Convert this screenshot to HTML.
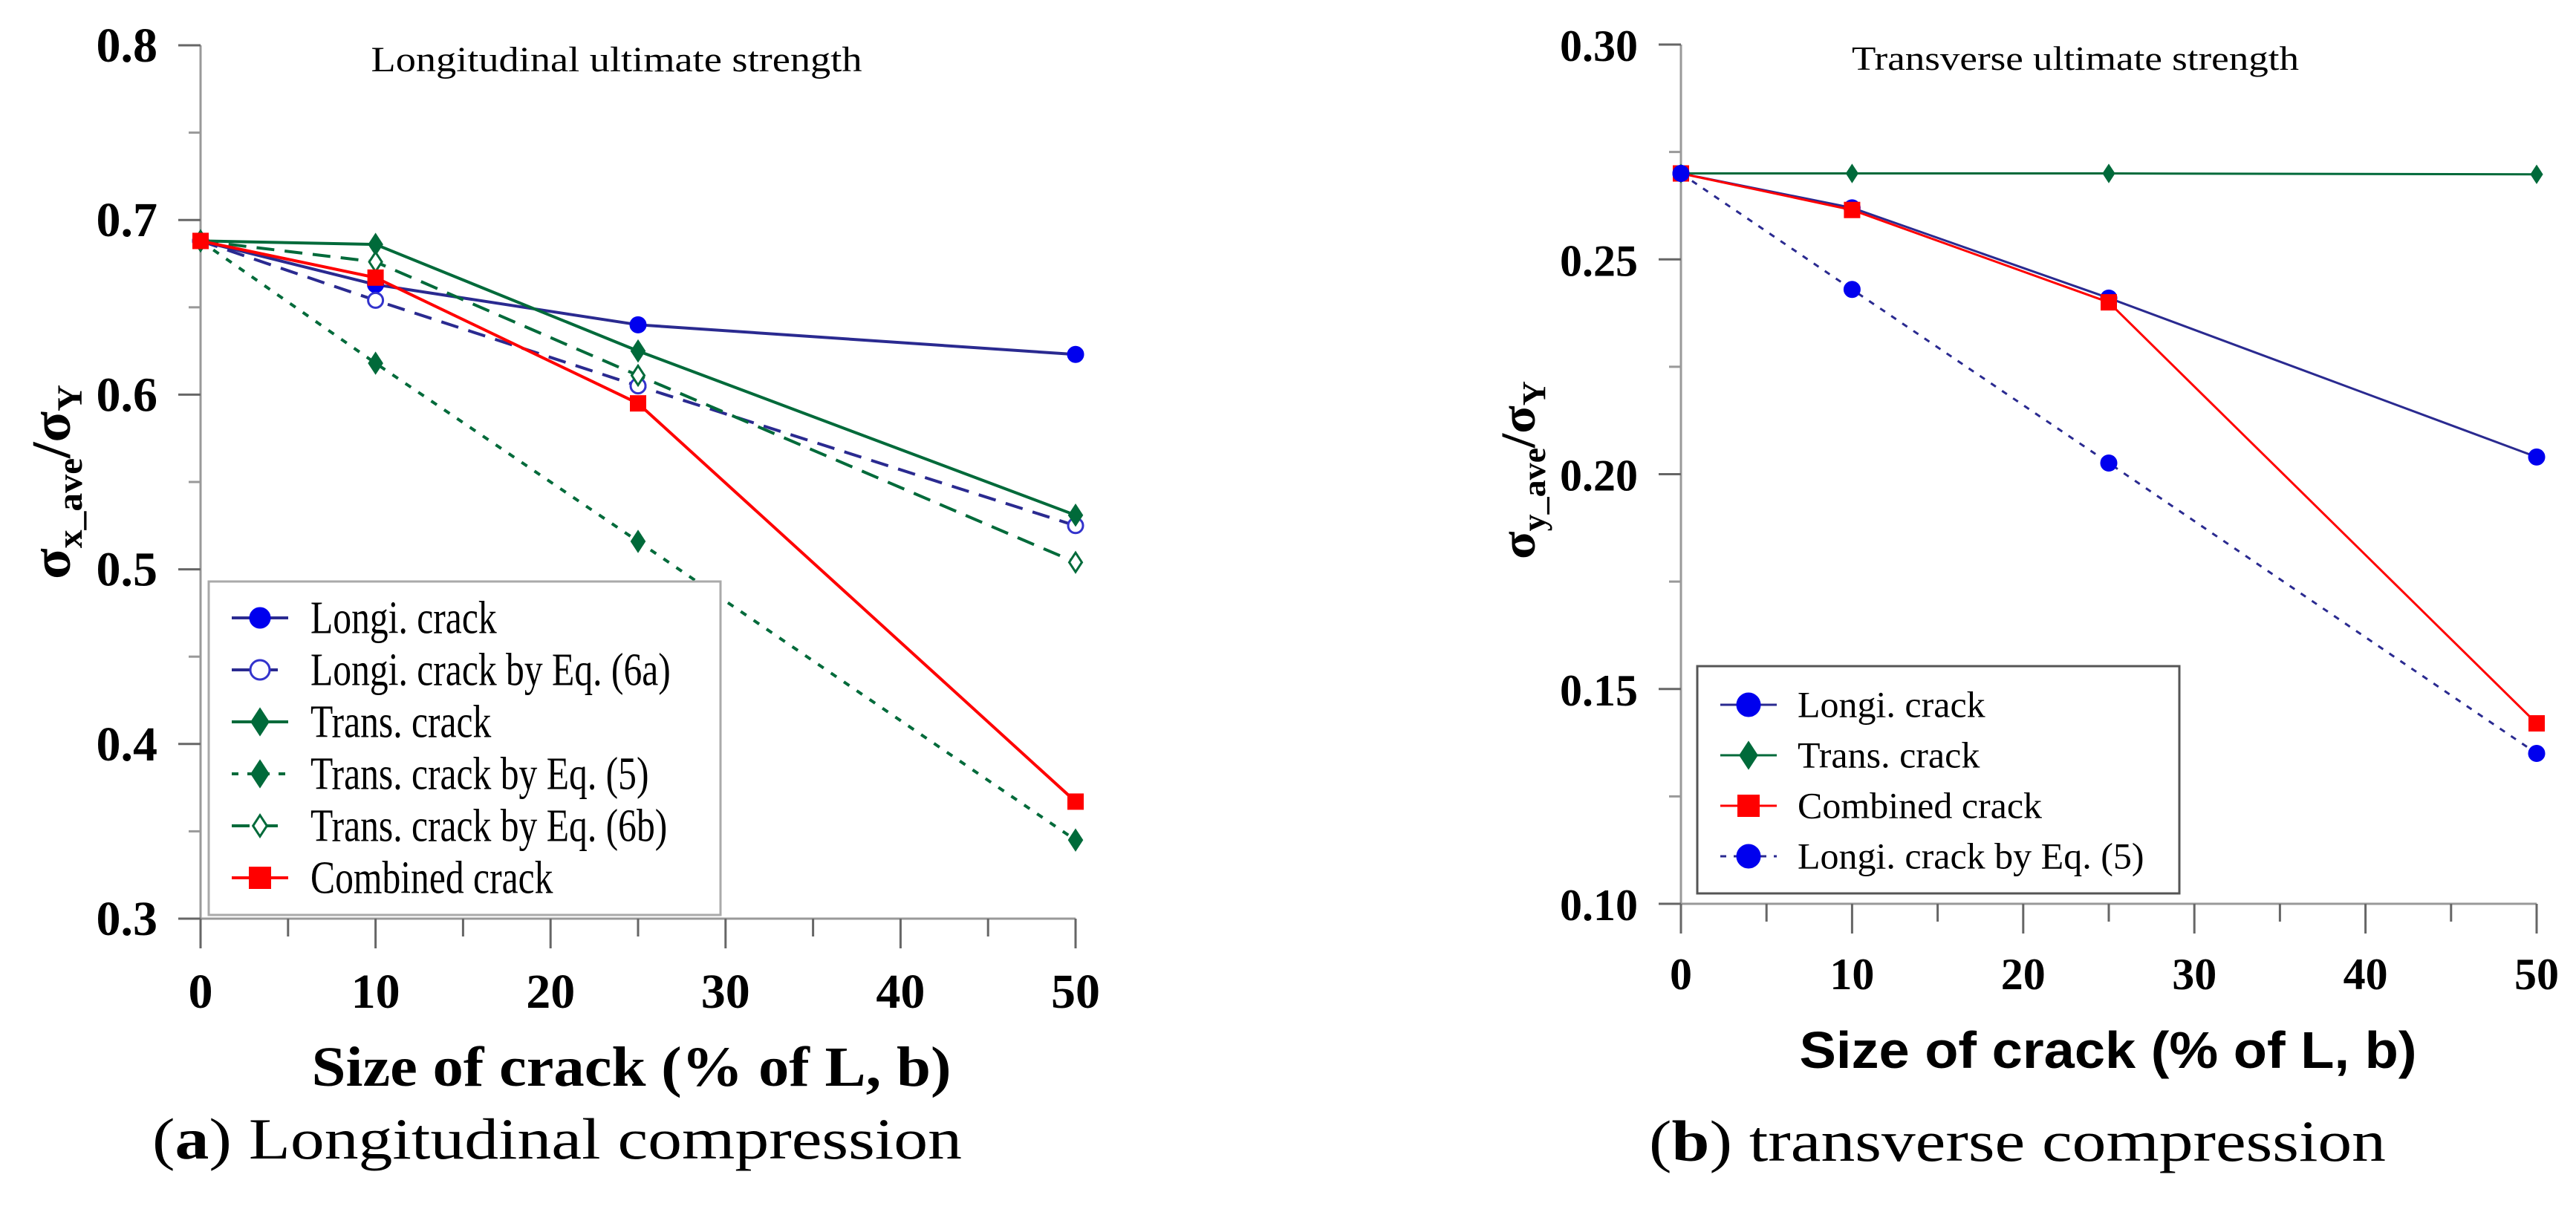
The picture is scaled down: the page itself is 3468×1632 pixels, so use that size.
<!DOCTYPE html>
<html><head><meta charset="utf-8"><style>
html,body{margin:0;padding:0;background:#fff}
svg{display:block}
</style></head><body>
<svg id="fig" width="3468" height="1632" viewBox="0 0 3468 1632" xmlns="http://www.w3.org/2000/svg">
<g id="L"></g>
<g id="R"></g>
</svg>
<script>
// ---- Chart (a) data ----
const xCats = [0, 10, 25, 50];
const aLongi = [0.688, 0.663, 0.640, 0.623];
const aLongi6a = [0.688, 0.654, 0.605, 0.525];
const aTrans = [0.688, 0.686, 0.625, 0.531];
const aTransEq5 = [0.688, 0.618, 0.516, 0.345];
const aTrans6b = [0.688, 0.676, 0.611, 0.504];
const aCombined = [0.688, 0.667, 0.595, 0.367];
const aYTicks = ["0.3","0.4","0.5","0.6","0.7","0.8"];
const xTicks = ["0","10","20","30","40","50"];
// ---- Chart (b) data ----
const bLongi = [0.270, 0.262, 0.241, 0.204];
const bTrans = [0.270, 0.270, 0.270, 0.2698];
const bCombined = [0.270, 0.2615, 0.240, 0.142];
const bLongiEq5 = [0.270, 0.243, 0.2026, 0.135];
const bYTicks = ["0.10","0.15","0.20","0.25","0.30"];

const NS="http://www.w3.org/2000/svg";
const SERIF='"Liberation Serif", serif', SANS='"Liberation Sans", sans-serif';
function mk(p,tag,at,txt){const e=document.createElementNS(NS,tag);for(const k in at)e.setAttribute(k,at[k]);if(tag==="text"&&!at["font-family"])e.setAttribute("font-family",SERIF);if(txt!==undefined)e.textContent=txt;p.appendChild(e);return e;}
const BLUE="#0000ee", DBLUE="#2a2a90", GREEN="#006a3a", RED="#ff0000";

function marker(g,type,x,y,s,col,fill){
  let e;
  if(type==="circle") e=mk(g,"circle",{cx:x,cy:y,r:s,fill:fill?col:"#fff",stroke:col,"stroke-width":3});
  else if(type==="square") e=mk(g,"rect",{x:x-s,y:y-s,width:2*s,height:2*s,fill:col});
  else e=mk(g,"polygon",{points:`${x},${y-s*1.3} ${x+s*0.85},${y} ${x},${y+s*1.3} ${x-s*0.85},${y}`,fill:fill?col:"#fff",stroke:col,"stroke-width":3});
  return e;
}

function chart(g,cfg){
  const X=v=>cfg.x0+(v-0)*(cfg.x1-cfg.x0)/50;
  const Y=v=>cfg.yb+(v-cfg.ymin)*(cfg.yt-cfg.yb)/(cfg.ymax-cfg.ymin);
  const ax=mk(g,"line",{x1:cfg.x0,y1:Y(cfg.ymax),x2:cfg.x0,y2:cfg.yb+40,stroke:"#999","stroke-width":3});
  
  
  const bx=mk(g,"line",{x1:cfg.x0-30,y1:cfg.yb,x2:cfg.x1,y2:cfg.yb,stroke:"#999","stroke-width":3});
  
  
  cfg.yticks.forEach((t,i)=>{
    const v=parseFloat(t),y=Y(v);
    mk(g,"line",{x1:cfg.x0-30,y1:y,x2:cfg.x0,y2:y,stroke:"#666","stroke-width":3});
    const lb=mk(g,"text",{x:cfg.x0-58,y:y+22,"text-anchor":"end","font-size":cfg.tfs,"font-weight":"bold"},t);
    
    
    if(i<cfg.yticks.length-1){const ym=Y(v+cfg.ystep/2);mk(g,"line",{x1:cfg.x0-16,y1:ym,x2:cfg.x0,y2:ym,stroke:"#999","stroke-width":3});}
  });
  xTicks.forEach((t,i)=>{
    const v=parseFloat(t),x=X(v);
    mk(g,"line",{x1:x,y1:cfg.yb,x2:x,y2:cfg.yb+40,stroke:"#666","stroke-width":3});
    if(i<xTicks.length-1){const xm=X(v+5);mk(g,"line",{x1:xm,y1:cfg.yb,x2:xm,y2:cfg.yb+24,stroke:"#666","stroke-width":3});}
    const lb=mk(g,"text",{x:x,y:cfg.xly,"text-anchor":"middle","font-size":cfg.tfs,"font-weight":"bold"},t);
    
    
  });
  cfg.series.forEach(s=>{
    const sg=mk(g,"g",{});
    
    
    const pts=xCats.map((c,i)=>X(c)+","+Y(s.d[i])).join(" ");
    mk(sg,"polyline",{points:pts,fill:"none",stroke:s.lc,"stroke-width":cfg.lw0,"stroke-dasharray":s.dash||"none"});
    xCats.forEach((c,i)=>{const m=marker(sg,s.m,X(c),Y(s.d[i]),s.ms,s.mc,s.fill);
      
      });
  });
  const lg=mk(g,"g",{});
  
  
  mk(lg,"rect",{x:cfg.lx,y:cfg.ly,width:cfg.lw,height:cfg.lh,fill:"#fff",stroke:cfg.lstroke,"stroke-width":3});
  cfg.series.forEach((s,i)=>{
    const y=cfg.ly+cfg.l0+i*cfg.ldy, mx=cfg.lmx;
    const eg=mk(lg,"g",{});
    
    
    mk(eg,"line",{x1:mx-38,y1:y,x2:mx+38,y2:y,stroke:s.lc,"stroke-width":cfg.lw0,"stroke-dasharray":s.dash||"none"});
    marker(eg,s.m,mx,y,s.lms||s.ms*1.4,s.mc,s.fill);
    const tx=mk(eg,"text",{x:cfg.ltx,y:y+cfg.lfs*0.33,"font-size":cfg.lfs},s.name);
    const w=tx.getComputedTextLength();
    if(w>0) tx.setAttribute("textLength",w*cfg.lsx),tx.setAttribute("lengthAdjust","spacingAndGlyphs");
  });
  const tt=mk(g,"text",{x:cfg.tx,y:cfg.ty,"text-anchor":"middle","font-size":cfg.titfs,textLength:cfg.titw,lengthAdjust:"spacingAndGlyphs"},cfg.title);
  
  
}

const L=document.getElementById("L"), R=document.getElementById("R");
chart(L,{x0:270,x1:1448,yb:1237,yt:61,ymin:0.3,ymax:0.8,ystep:0.1,yticks:aYTicks,tfs:66,xly:1357,lw0:4,
  series:[
   {id:"longi",name:"Longi. crack",d:aLongi,lc:DBLUE,mc:BLUE,m:"circle",ms:10,fill:true,lms:13},
   {id:"longi-6a",name:"Longi. crack by Eq. (6a)",d:aLongi6a,lc:DBLUE,mc:"#3333cc",m:"circle",ms:10,fill:false,dash:"24 14",lms:13},
   {id:"trans",name:"Trans. crack",d:aTrans,lc:GREEN,mc:GREEN,m:"diamond",ms:10,fill:true,lms:13},
   {id:"trans-eq5",name:"Trans. crack by Eq. (5)",d:aTransEq5,lc:GREEN,mc:GREEN,m:"diamond",ms:10,fill:true,dash:"9 12",lms:13},
   {id:"trans-6b",name:"Trans. crack by Eq. (6b)",d:aTrans6b,lc:GREEN,mc:GREEN,m:"diamond",ms:10,fill:false,dash:"24 14",lms:11},
   {id:"combined",name:"Combined crack",d:aCombined,lc:RED,mc:RED,m:"square",ms:11,fill:true,lms:15}],
  lx:281,ly:783,lw:689,lh:449,l0:49,ldy:70,lmx:350,ltx:418,lfs:62,lsx:0.8,lstroke:"#aaa",
  tx:830,ty:96,titfs:48,titw:661,title:"Longitudinal ultimate strength"});
chart(R,{x0:2263,x1:3415,yb:1217,yt:60,ymin:0.10,ymax:0.30,ystep:0.05,yticks:bYTicks,tfs:60,xly:1332,lw0:3,
  series:[
   {id:"longi",name:"Longi. crack",d:bLongi,lc:DBLUE,mc:BLUE,m:"circle",ms:10,fill:true,lms:15},
   {id:"trans",name:"Trans. crack",d:bTrans,lc:GREEN,mc:GREEN,m:"diamond",ms:8,fill:true,lms:13},
   {id:"combined",name:"Combined crack",d:bCombined,lc:RED,mc:RED,m:"square",ms:11,fill:true,lms:15},
   {id:"longi-eq5",name:"Longi. crack by Eq. (5)",d:bLongiEq5,lc:DBLUE,mc:BLUE,m:"circle",ms:10,fill:true,dash:"8 10",lms:15}],
  lx:2285,ly:897,lw:649,lh:306,l0:52,ldy:68,lmx:2354,ltx:2420,lfs:50,lsx:1.0,lstroke:"#555",
  tx:2794,ty:94,titfs:46,titw:602,title:"Transverse ultimate strength"});

const fig=document.getElementById("fig");
let t;
t=mk(fig,"text",{x:850,y:1462,"text-anchor":"middle","font-size":76,"font-weight":"bold",textLength:861,lengthAdjust:"spacingAndGlyphs"},"Size of crack (% of L, b)");


t=mk(fig,"text",{x:2838,y:1438,"text-anchor":"middle","font-size":70,"font-weight":"bold","font-family":SANS,textLength:831,lengthAdjust:"spacingAndGlyphs"},"Size of crack (% of L, b)");


t=mk(fig,"text",{transform:"translate(94,649) rotate(-90)","text-anchor":"middle","font-size":74,"font-weight":"bold",textLength:262,lengthAdjust:"spacingAndGlyphs"});
t.innerHTML='σ<tspan font-size="48" dy="16">x_ave</tspan><tspan dy="-16">/σ</tspan><tspan font-size="48" dy="16">Y</tspan>';


t=mk(fig,"text",{transform:"translate(2066,633) rotate(-90)","text-anchor":"middle","font-size":66,"font-weight":"bold",textLength:240,lengthAdjust:"spacingAndGlyphs"});
t.innerHTML='σ<tspan font-size="44" dy="14">y_ave</tspan><tspan dy="-14">/σ</tspan><tspan font-size="44" dy="14">Y</tspan>';


t=mk(fig,"text",{x:750,y:1560,"text-anchor":"middle","font-size":78,textLength:1090,lengthAdjust:"spacingAndGlyphs"});
t.innerHTML='(<tspan font-weight="bold">a</tspan>) Longitudinal compression';


t=mk(fig,"text",{x:2716,y:1563,"text-anchor":"middle","font-size":78,textLength:992,lengthAdjust:"spacingAndGlyphs"});
t.innerHTML='(<tspan font-weight="bold">b</tspan>) transverse compression';


</script>
</body></html>
